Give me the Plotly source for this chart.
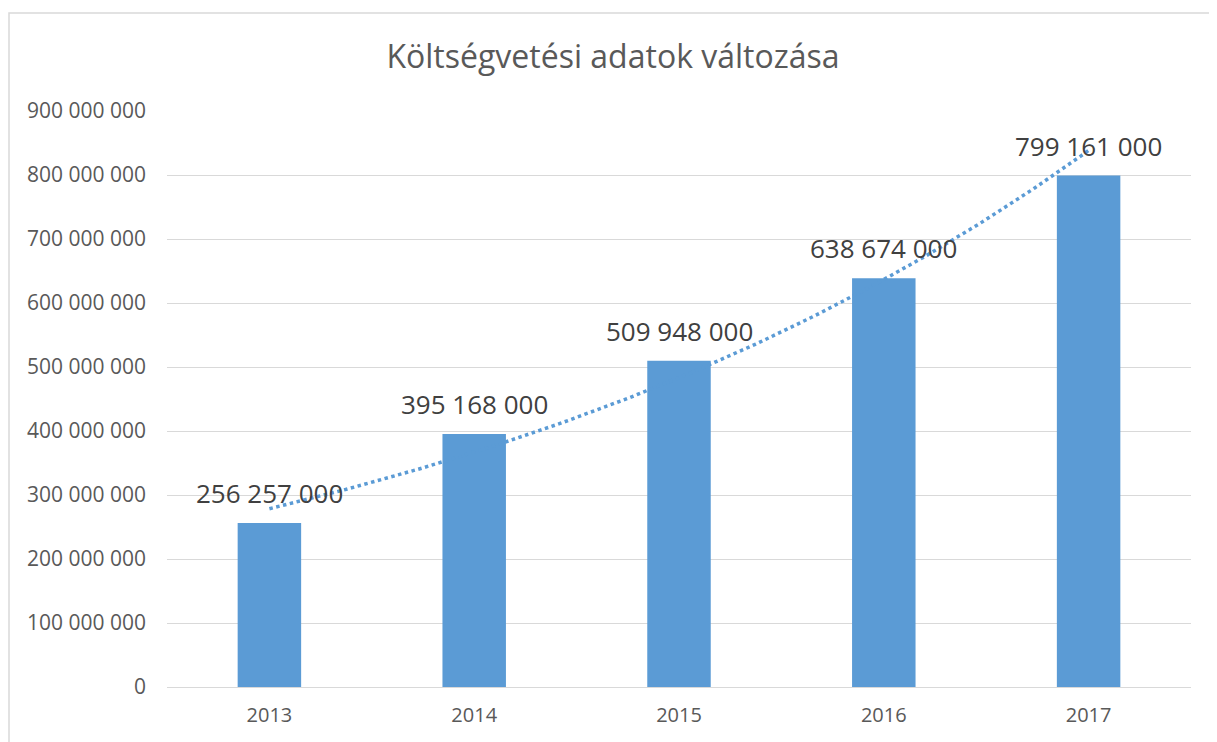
import numpy as np
import plotly.graph_objects as go

years = ["2013", "2014", "2015", "2016", "2017"]
values = [256257000, 395168000, 509948000, 638674000, 799161000]
y_ticks = [0, 100000000, 200000000, 300000000, 400000000, 500000000,
           600000000, 700000000, 800000000, 900000000]

BLUE = "#5B9BD5"
FONT = "Open Sans, sans-serif"
x_idx = np.arange(len(years))

# exponential trendline fitted to the data (as Excel's trendline)
b, a = np.polyfit(x_idx, np.log(values), 1)
xt = np.linspace(0, len(years) - 1, 200)
yt = np.exp(a + b * xt)

def fmt(v):
    return f"{v:,}".replace(",", " ")

# page body has an 8px margin, so the figure is offset by 8px
W, H = 1209, 734
L, R, T, B = 159, 26, 103, 55
PW, PH = W - L - R, H - T - B

fig = go.Figure()
fig.add_trace(go.Bar(
    x=x_idx, y=values, marker=dict(color=BLUE, line=dict(width=0)),
    width=0.31, hoverinfo="skip",
))
fig.add_trace(go.Scatter(
    x=xt, y=yt, mode="lines",
    line=dict(color=BLUE, width=3.5, dash="dot"), hoverinfo="skip",
))
for xi, v in zip(x_idx, values):
    fig.add_annotation(x=xi, y=v, text=fmt(v), showarrow=False,
                       yanchor="bottom", xanchor="center", yshift=10,
                       font=dict(family=FONT, size=26, color="#404040"))

fig.update_layout(
    width=W, height=H,
    margin=dict(l=L, r=R, t=T, b=B),
    paper_bgcolor="white", plot_bgcolor="white",
    showlegend=False,
    title=dict(text="Költségvetési adatok változása", x=605 / W, xanchor="center",
               y=1 - 49 / H, yanchor="middle",
               font=dict(family=FONT, size=32, color="#595959")),
    font=dict(family=FONT, color="#595959"),
    xaxis=dict(range=[-0.5, 4.5], tickvals=list(x_idx), ticktext=years,
               showgrid=False, zeroline=False, showline=False, ticks="",
               ticklabelstandoff=14,
               tickfont=dict(size=20, color="#595959")),
    yaxis=dict(range=[0, 900000000], tickvals=y_ticks,
               ticktext=[fmt(v) for v in y_ticks],
               showgrid=True, gridcolor="#D9D9D9", gridwidth=1,
               zeroline=True, zerolinecolor="#D9D9D9", zerolinewidth=1,
               showline=False, ticks="", ticklabelstandoff=20,
               tickfont=dict(size=21, color="#595959")),
    shapes=[dict(type="rect", xref="paper", yref="paper",
                 x0=(1 - L) / PW, x1=1.2,
                 y0=-0.2, y1=1 + (T - 5) / PH,
                 line=dict(color="#D9D9D9", width=1.5), fillcolor="rgba(0,0,0,0)",
                 layer="below")],
)

fig.write_html("out.html")
